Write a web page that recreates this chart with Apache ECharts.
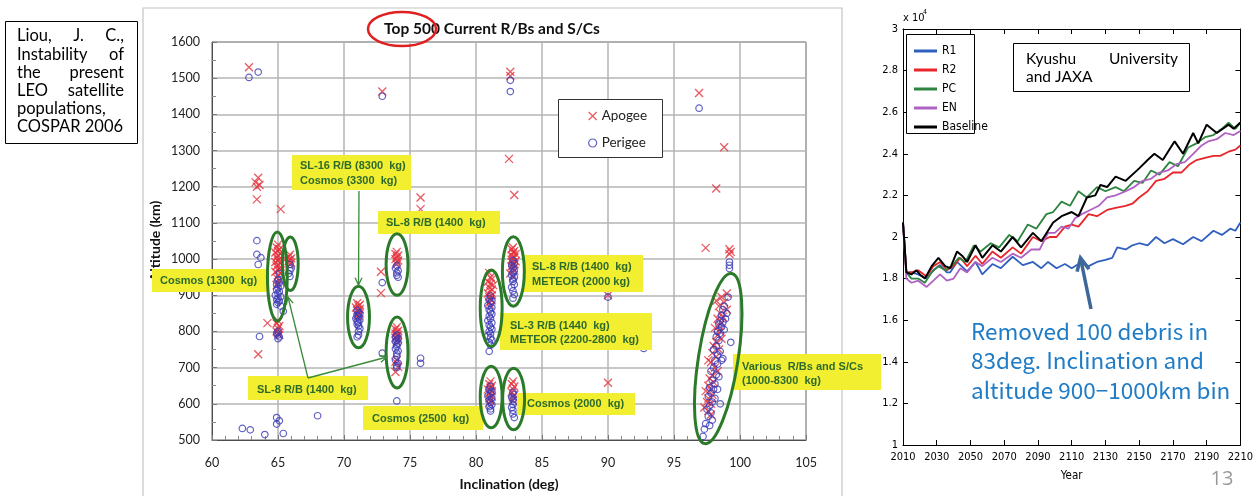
<!DOCTYPE html>
<html><head><meta charset="utf-8">
<script src="https://cdn.jsdelivr.net/npm/echarts@6/dist/echarts.min.js"></script>
<style>html,body{margin:0;padding:0;background:#fff}#c{width:1256px;height:496px}</style>
</head><body><div id="c"></div>
<script>
// ---------- Left chart: top 500 rocket bodies / spacecraft (inclination vs altitude) ----------
const apogee = [
  [62.8,1530],[63.5,1225],[63.3,1212],[63.6,1205],[63.4,1200],[63.4,1165],[65.2,1138],
  [65.0,1040],[64.9,1032],[65.1,1028],[65.0,1022],[64.8,1018],[65.2,1014],[65.0,1010],[64.9,1004],[65.1,1000],
  [65.0,996],[64.8,992],[65.2,988],[65.0,984],[64.9,980],[65.1,975],[65.0,970],[64.8,965],[65.2,960],[65.0,955],
  [64.9,948],[65.1,942],[65.0,935],[64.9,928],
  [65.0,830],[64.9,822],[65.1,815],[65.0,808],[64.9,800],[65.0,795],[65.1,790],[64.2,823],[63.5,737],
  [65.9,1012],[65.8,1006],[66.0,1002],[65.9,998],[65.8,994],[66.0,990],[65.9,985],
  [71.0,878],[71.2,874],[71.1,870],[70.9,866],[71.2,862],[71.0,858],[71.1,854],[71.2,850],[71.0,846],[71.1,842],
  [72.9,1463],[72.8,965],[72.8,906],[75.8,1170],[75.8,1138],
  [74.0,1020],[73.9,1014],[74.1,1010],[74.0,1005],[73.9,1000],[74.1,996],[74.0,992],[74.0,986],
  [74.0,812],[73.9,806],[74.1,802],[74.0,798],[73.9,794],[74.1,790],[74.0,786],[73.9,782],[74.1,778],[74.0,772],
  [74.0,722],[73.9,716],[74.1,702],[73.9,688],
  [81.0,962],[81.1,950],[81.2,944],[80.9,938],[81.1,932],[81.3,928],[81.0,922],[81.2,916],[81.1,910],[80.9,905],
  [81.2,900],[81.0,895],[81.1,890],[81.2,886],[81.0,880],[81.1,872],
  [81.1,662],[81.0,655],[81.2,650],[81.1,645],[80.9,640],[81.2,635],[81.0,630],[81.1,625],[81.2,620],[81.0,615],[81.1,608],[81.0,602],
  [82.8,1032],[82.7,1027],[82.9,1022],[82.8,1018],[83.0,1014],[82.7,1010],[82.9,1006],[82.8,1002],[82.7,998],[83.0,994],
  [82.8,990],[82.9,985],[82.7,980],[82.8,975],[82.9,968],[82.6,960],[82.8,952],
  [82.8,662],[82.7,655],[82.9,648],[82.8,640],[82.7,632],[82.9,625],[82.8,618],[82.8,610],
  [82.6,1518],[82.6,1506],[82.5,1277],[82.9,1177],[90.0,900],[90.0,658],[96.9,1459],[98.8,1309],[98.2,1195],
  [97.4,1031],[99.2,1027],[99.3,1020],[99.2,1014],
  [99.0,905],[98.6,895],[98.2,885],[98.8,880],[98.4,870],[99.0,860],[98.5,850],[98.7,840],[98.3,835],[98.6,825],
  [98.4,815],[98.1,810],[98.5,800],[98.3,790],[98.6,780],[98.2,770],[98.0,760],[98.4,750],[97.9,740],[98.2,730],
  [97.6,720],[97.8,715],[98.1,700],[98.3,690],[97.9,680],[97.7,670],[98.0,660],[97.6,650],[97.8,640],[97.4,635],
  [97.9,625],[97.6,615],[97.5,605],[97.8,600],[97.3,590],[97.6,580],[97.8,570]
];
const perigee = [
  [62.8,1502],[63.5,1517],[63.4,1051],[63.4,1013],[63.7,1004],[63.5,985],[63.6,786],
  [62.3,532],[62.9,528],[64.0,515],[64.9,562],[65.1,553],[64.9,544],[65.4,518],[65.0,622],[68.0,567],
  [65.0,942],[65.1,935],[64.9,930],[65.2,925],[65.0,920],[64.9,915],[65.1,910],[65.0,905],[64.8,900],[65.2,896],
  [65.0,892],[64.9,888],[65.1,884],[65.0,880],[64.9,875],[65.2,870],[65.4,856],[65.1,960],
  [65.0,800],[64.9,795],[65.0,790],[65.1,785],[65.0,780],
  [65.9,985],[66.0,975],[65.9,968],[65.8,960],[65.9,952],
  [71.0,858],[71.1,852],[71.2,848],[71.0,844],[71.1,840],[70.9,836],[71.2,832],[71.0,828],[71.1,824],[71.0,820],
  [71.1,815],[71.2,808],[71.1,800],[71.1,790],[71.0,785],
  [72.9,1450],[72.9,935],[72.9,740],[75.8,726],[75.8,712],
  [74.0,982],[73.9,975],[74.1,968],[74.0,962],[74.0,955],[74.1,950],
  [74.0,790],[73.9,785],[74.1,780],[74.0,776],[73.9,772],[74.1,768],[74.0,764],[74.0,758],[73.9,752],[74.1,746],
  [74.0,740],[74.0,732],[73.9,722],[74.1,712],[74.0,705],[74.0,700],[74.0,608],
  [81.1,898],[81.0,890],[81.2,884],[81.1,878],[80.9,872],[81.2,866],[81.0,860],[81.1,854],[81.2,848],[81.0,842],
  [81.1,836],[80.9,830],[81.2,824],[81.0,818],[81.1,812],[81.2,806],[81.0,800],[81.1,794],[80.9,788],[81.1,782],
  [81.2,776],[81.0,770],[81.1,762],[81.0,745],
  [81.1,648],[81.0,640],[81.2,634],[81.1,628],[80.9,622],[81.2,616],[81.0,610],[81.1,604],[81.2,598],[81.0,592],
  [81.1,586],[81.1,580],
  [82.8,996],[82.9,988],[82.7,982],[82.8,975],[82.9,968],[82.8,962],[82.7,956],[82.9,950],[82.8,944],[82.8,938],
  [82.9,930],[82.7,922],[82.8,912],[82.9,902],[82.8,892],
  [82.8,632],[82.9,625],[82.7,618],[82.8,612],[82.9,605],[82.8,598],[82.7,590],[82.8,582],[82.8,572],[82.9,562],
  [82.6,1494],[82.6,1463],[90.0,895],[92.7,753],[96.9,1417],[99.2,992],[99.2,983],[99.2,974],
  [99.1,895],[98.8,870],[98.7,860],[99.0,850],[98.6,845],[98.9,835],[98.5,830],[98.7,825],[98.4,820],[98.6,812],
  [98.8,805],[98.3,800],[98.5,795],[98.2,785],[98.4,775],[99.3,770],[98.2,760],[98.0,750],[98.5,745],[98.3,735],
  [98.7,725],[98.1,720],[98.3,710],[98.0,700],[97.8,690],[98.2,680],[98.4,675],[97.9,665],[98.1,655],[97.7,645],
  [98.0,640],[97.8,630],[97.6,620],[98.1,615],[97.9,605],[98.5,600],[97.7,595],[97.5,585],[97.8,575],[97.6,565],
  [97.9,555],[97.4,545],[97.7,540],[97.3,530],[97.2,510],[98.3,640],[98.6,720]
];

// ---------- Right chart: LEO population projection (x 10^4 objects) ----------
const yearStart = 2010;
const r1 = [
  [2010,2.07],[2012,1.83],[2015,1.83],[2019,1.82],[2024,1.80],[2028,1.84],[2032,1.865],[2036,1.83],[2038,1.83],
  [2042,1.88],[2048,1.835],[2053,1.88],[2057,1.82],[2063,1.87],[2068,1.85],[2075,1.905],[2081,1.865],[2087,1.88],
  [2092,1.85],[2096,1.88],[2101,1.85],[2106,1.87],[2110,1.85],[2115,1.875],[2120,1.86],[2125,1.88],[2130,1.89],
  [2134,1.90],[2137,1.95],[2142,1.94],[2146,1.96],[2150,1.97],[2155,1.96],[2160,2.00],[2165,1.97],[2170,1.99],
  [2176,1.965],[2182,2.00],[2187,1.98],[2194,2.03],[2199,2.01],[2204,2.04],[2207,2.03],[2210,2.07]
];
const r2 = [
  [2010,2.07],[2012,1.83],[2015,1.83],[2019,1.84],[2024,1.81],[2028,1.86],[2032,1.88],[2036,1.84],[2040,1.86],
  [2044,1.90],[2048,1.86],[2053,1.91],[2057,1.87],[2063,1.93],[2068,1.90],[2075,1.95],[2080,1.92],[2087,2.00],
  [2092,1.98],[2097,2.00],[2101,2.00],[2106,2.05],[2110,2.06],[2114,2.05],[2120,2.11],[2125,2.10],[2131,2.13],
  [2136,2.14],[2142,2.15],[2146,2.16],[2150,2.19],[2155,2.22],[2160,2.27],[2165,2.28],[2170,2.31],[2175,2.31],
  [2180,2.35],[2184,2.37],[2189,2.38],[2194,2.39],[2198,2.39],[2203,2.41],[2207,2.42],[2210,2.44]
];
const pc = [
  [2010,2.07],[2012,1.83],[2015,1.80],[2019,1.80],[2023,1.78],[2027,1.83],[2031,1.86],[2035,1.84],[2039,1.86],
  [2043,1.90],[2047,1.88],[2052,1.96],[2056,1.93],[2062,1.97],[2067,1.95],[2073,2.01],[2078,1.98],[2084,2.06],
  [2089,2.04],[2095,2.11],[2099,2.12],[2104,2.17],[2109,2.15],[2114,2.22],[2119,2.19],[2125,2.24],[2130,2.22],
  [2136,2.24],[2141,2.22],[2147,2.27],[2152,2.26],[2157,2.32],[2162,2.30],[2168,2.36],[2173,2.34],[2179,2.43],
  [2184,2.45],[2189,2.48],[2194,2.49],[2199,2.52],[2203,2.55],[2207,2.52],[2210,2.55]
];
const en = [
  [2010,2.07],[2012,1.80],[2015,1.78],[2019,1.79],[2024,1.76],[2028,1.79],[2032,1.82],[2036,1.79],[2040,1.80],
  [2044,1.85],[2048,1.83],[2053,1.88],[2057,1.86],[2063,1.90],[2068,1.88],[2075,1.92],[2080,1.90],[2086,1.94],
  [2091,1.94],[2096,2.02],[2100,2.02],[2104,2.05],[2108,2.04],[2112,2.09],[2116,2.11],[2121,2.13],[2126,2.15],
  [2131,2.19],[2136,2.20],[2142,2.22],[2147,2.24],[2152,2.27],[2157,2.28],[2162,2.31],[2167,2.32],[2172,2.35],
  [2177,2.36],[2182,2.40],[2187,2.44],[2191,2.46],[2196,2.47],[2201,2.50],[2206,2.49],[2210,2.51]
];
const baseline = [
  [2010,2.07],[2012,1.83],[2015,1.82],[2018,1.84],[2020,1.82],[2023,1.80],[2027,1.86],[2031,1.90],[2035,1.86],
  [2038,1.85],[2042,1.93],[2045,1.91],[2048,1.88],[2053,1.96],[2057,1.90],[2063,1.96],[2068,1.93],[2075,2.00],
  [2080,1.95],[2087,2.02],[2092,1.98],[2099,2.07],[2104,2.10],[2110,2.12],[2114,2.10],[2119,2.19],[2124,2.20],
  [2127,2.25],[2131,2.24],[2136,2.29],[2142,2.27],[2150,2.33],[2155,2.37],[2159,2.40],[2164,2.37],[2171,2.46],
  [2176,2.40],[2182,2.50],[2185,2.45],[2190,2.54],[2196,2.50],[2203,2.54],[2206,2.52],[2210,2.55]
];

// cluster rings on the scatter, in data units: [inclination, altitude, half-width deg, half-height km, tilt deg]
const rings = [
  [64.95,952,0.75,123,0],[65.93,987,0.6,74,0],[71.1,840,0.83,85,0],[74.02,985,0.83,85,0],[74.02,742,0.83,98,0],
  [81.15,864,0.83,106,0],[81.15,619,0.83,85,0],[82.83,966,0.83,96,0],[82.85,613,0.83,85,0],[98.35,725,1.5,238,-9]
];

const crossPath = 'path://M0,0L10,10M10,0L0,10';
const lbl = {fontFamily:'Lato', fontSize:12.5, color:'#222', formatter:v => String(v)};
const narrow = '"Liberation Sans Narrow", "DejaVu Sans Condensed", "Roboto Condensed", "Arial Narrow", sans-serif';
const shift = d => d.map(p => [p[0]-yearStart, p[1]]);
const frameAxis = {show:true, onZero:false, lineStyle:{color:'#000', width:1}};
const inTick = {show:true, inside:true, length:5, lineStyle:{color:'#000'}};

const chart = echarts.init(document.getElementById('c'));
chart.setOption({
  animation:false,
  grid:[
    {left:212, top:42, width:594, height:402, show:true, borderColor:'#4d4d4d', borderWidth:1},
    {left:903, top:29, width:338, height:416}
  ],
  xAxis:[
    {gridIndex:0, type:'value', min:60, max:105, interval:5,
     axisLine:{show:true, onZero:false, lineStyle:{color:'#4d4d4d'}},
     axisTick:{show:true, inside:true, length:5, lineStyle:{color:'#777'}},
     minorTick:{show:true, splitNumber:5, length:4, lineStyle:{color:'#888'}},
     splitLine:{show:true, lineStyle:{color:'#b4b4b4', width:1.5}},
     axisLabel:Object.assign({margin:16}, lbl),
     name:'Inclination (deg)', nameLocation:'middle', nameGap:37,
     nameTextStyle:{fontFamily:'Lato', fontWeight:'bold', fontSize:14, color:'#111'}},
    {gridIndex:1, type:'value', min:0, max:200, interval:20,
     axisLine:frameAxis, axisTick:inTick, splitLine:{show:false},
     axisLabel:{formatter:v => String(v+yearStart), margin:7, fontFamily:narrow, fontSize:11, color:'#000'},
     name:'Year', nameLocation:'middle', nameGap:25,
     nameTextStyle:{fontFamily:narrow, fontSize:11.5, color:'#000'}},
    {gridIndex:1, type:'value', position:'top', min:0, max:200, interval:20,
     axisLine:frameAxis, axisTick:inTick, splitLine:{show:false}, axisLabel:{show:false}}
  ],
  yAxis:[
    {gridIndex:0, type:'value', min:500, max:1600, interval:100,
     axisLine:{show:true, onZero:false, lineStyle:{color:'#4d4d4d'}},
     axisTick:{show:true, inside:true, length:5, lineStyle:{color:'#777'}},
     minorTick:{show:true, splitNumber:2, length:4, lineStyle:{color:'#888'}},
     splitLine:{show:true, lineStyle:{color:'#b4b4b4', width:1.5}},
     axisLabel:Object.assign({margin:12}, lbl),
     name:'Altitude (km)', nameLocation:'middle', nameGap:50, nameRotate:90,
     nameTextStyle:{fontFamily:'Lato', fontWeight:'bold', fontSize:14, color:'#111'}},
    {gridIndex:1, type:'value', min:1, max:3, interval:0.2,
     axisLine:frameAxis, axisTick:inTick, splitLine:{show:false},
     axisLabel:{formatter:v => String(Math.round(v*10)/10), margin:5, fontFamily:narrow, fontSize:11, color:'#000'}},
    {gridIndex:1, type:'value', position:'right', min:1, max:3, interval:0.2,
     axisLine:frameAxis, axisTick:inTick, splitLine:{show:false}, axisLabel:{show:false}}
  ],
  legend:[
    {left:583, top:104, orient:'vertical', itemWidth:8, itemHeight:8, itemGap:13, selectedMode:false, z:20,
     textStyle:{fontFamily:'Lato', fontSize:13.5, color:'#222'},
     data:[
       {name:'Apogee', icon:crossPath, itemStyle:{color:'rgba(0,0,0,0)', borderColor:'#e4313b', borderWidth:1.3}},
       {name:'Perigee', icon:'circle', itemStyle:{color:'rgba(0,0,0,0)', borderColor:'#3a3ab8', borderWidth:1.2}}
     ]},
    {left:909, top:39, orient:'vertical', itemWidth:23, itemHeight:3, itemGap:5, selectedMode:false, icon:'rect', z:20,
     textStyle:{fontFamily:narrow, fontSize:12, color:'#000', lineHeight:14},
     data:['R1','R2','PC','EN','Baseline']}
  ],
  series:[
    {name:'Apogee', type:'scatter', xAxisIndex:0, yAxisIndex:0, data:apogee, symbol:crossPath, symbolSize:8,
     itemStyle:{color:'rgba(0,0,0,0)', borderColor:'#e4313b', borderWidth:1.3}},
    {name:'Perigee', type:'scatter', xAxisIndex:0, yAxisIndex:0, data:perigee, symbol:'circle', symbolSize:6.5,
     itemStyle:{color:'rgba(0,0,0,0)', borderColor:'#3a3ab8', borderWidth:1.2}},
    {name:'R1', type:'line', xAxisIndex:1, yAxisIndex:1, data:shift(r1), showSymbol:false, symbol:'none',
     color:'#2f5fbf', lineStyle:{width:1.8, color:'#2f5fbf'}},
    {name:'R2', type:'line', xAxisIndex:1, yAxisIndex:1, data:shift(r2), showSymbol:false, symbol:'none',
     color:'#e8252a', lineStyle:{width:1.8, color:'#e8252a'}},
    {name:'PC', type:'line', xAxisIndex:1, yAxisIndex:1, data:shift(pc), showSymbol:false, symbol:'none',
     color:'#2e8540', lineStyle:{width:1.8, color:'#2e8540'}},
    {name:'EN', type:'line', xAxisIndex:1, yAxisIndex:1, data:shift(en), showSymbol:false, symbol:'none',
     color:'#b062c4', lineStyle:{width:1.8, color:'#b062c4'}},
    {name:'Baseline', type:'line', xAxisIndex:1, yAxisIndex:1, data:shift(baseline), showSymbol:false, symbol:'none',
     color:'#000', lineStyle:{width:2, color:'#000'}}
  ]
});

// ---------- annotations ----------
const ctx = document.createElement('canvas').getContext('2d');
function justified(words, x1, x2, y, font, color, z) {
  ctx.font = font;
  const widths = words.map(w => ctx.measureText(w).width);
  const gap = words.length > 1 ? (x2 - x1 - widths.reduce((a,b)=>a+b,0)) / (words.length - 1) : 0;
  let x = x1;
  return words.map((w,i) => {
    const el = {type:'text', x:x, y:y, z:z||10, style:{text:w, font:font, fill:color||'#000', textVerticalAlign:'middle'}};
    x += widths[i] + gap;
    return el;
  });
}
function arrow(x1, y1, x2, y2, color, width, head) {
  const a = Math.atan2(y2-y1, x2-x1), s = 0.45;
  return [
    {type:'line', z:11, shape:{x1:x1, y1:y1, x2:x2, y2:y2}, style:{stroke:color, lineWidth:width}},
    {type:'polyline', z:11, shape:{points:[
      [x2 - head*Math.cos(a - s), y2 - head*Math.sin(a - s)], [x2, y2],
      [x2 - head*Math.cos(a + s), y2 - head*Math.sin(a + s)]]},
     style:{stroke:color, lineWidth:width, fill:null}}
  ];
}
const yellow = '#f2ee30', tagText = '#2d6b2d';
const tagFont = 'bold 11px "Liberation Sans", Arial, sans-serif';
function tag(x, y, w, h, lines, tx, ty, lh) {
  const els = [{type:'rect', z:10, shape:{x:x, y:y, width:w, height:h}, style:{fill:yellow}}];
  lines.forEach((t,i) => els.push({type:'text', z:11, x:tx, y:ty + i*(lh||15),
    style:{text:t, font:tagFont, fill:tagText, textVerticalAlign:'middle'}}));
  return els;
}

const g = [];
// slide frame around the left chart
g.push({type:'polyline', z:1, shape:{points:[[143,496],[143,8],[842,8],[842,496]]}, style:{stroke:'#c4c4c4', lineWidth:1.2, fill:null}});
// citation box
g.push({type:'rect', z:5, shape:{x:5.5, y:21.5, width:132, height:122}, style:{fill:'#fff', stroke:'#000', lineWidth:1}});
const citeFont = '16.5px Lato, sans-serif';
g.push(...justified(['Liou,','J.','C.,'], 17, 124, 36, citeFont));
g.push(...justified(['Instability','of'], 17, 124, 54.5, citeFont));
g.push(...justified(['the','present'], 17, 124, 72.5, citeFont));
g.push(...justified(['LEO','satellite'], 17, 124, 91, citeFont));
g.push(...justified(['populations,'], 17, 124, 109, citeFont));
g.push(...justified(['COSPAR 2006'], 17, 124, 127, citeFont));
// title
g.push({type:'text', z:10, x:492, y:29, style:{text:'Top 500 Current R/Bs and S/Cs', font:'bold 15.5px Lato, sans-serif',
  fill:'#111', textAlign:'center', textVerticalAlign:'middle'}});
g.push({type:'ellipse', z:11, shape:{cx:402, cy:29, rx:34, ry:17}, style:{fill:null, stroke:'#e02020', lineWidth:2.5}});
// scatter legend box
g.push({type:'rect', z:12, shape:{x:558.5, y:99.5, width:104, height:58}, style:{fill:'#fff', stroke:'#333', lineWidth:1}});
// cluster rings
const px0 = chart.convertToPixel({gridIndex:0}, [60, 500]);
const pxPerDeg = chart.convertToPixel({gridIndex:0}, [61, 500])[0] - px0[0];
const pxPerKm = px0[1] - chart.convertToPixel({gridIndex:0}, [60, 501])[1];
rings.forEach(r => {
  const c = chart.convertToPixel({gridIndex:0}, [r[0], r[1]]);
  g.push({type:'ellipse', z:11, x:c[0], y:c[1], rotation:r[4]*Math.PI/180,
    shape:{cx:0, cy:0, rx:r[2]*pxPerDeg, ry:r[3]*pxPerKm}, style:{fill:null, stroke:'#2a7a2a', lineWidth:3}});
});
// object class tags
g.push(...tag(152, 269, 116, 23, ['Cosmos (1300  kg)'], 160, 280.5));
g.push(...tag(292, 155, 119, 35, ['SL-16 R/B (8300  kg)', 'Cosmos (3300  kg)'], 300, 166, 15));
g.push(...tag(378, 211, 122, 23, ['SL-8 R/B (1400  kg)'], 386, 222.5));
g.push(...tag(524, 255, 119, 37, ['SL-8 R/B (1400  kg)', 'METEOR (2000 kg)'], 532, 267, 15));
g.push(...tag(500, 313, 152, 37, ['SL-3 R/B (1440  kg)', 'METEOR (2200-2800  kg)'], 510, 325.5, 14));
g.push(...tag(517, 393, 118, 22, ['Cosmos (2000  kg)'], 527, 404));
g.push(...tag(363, 406, 120, 24, ['Cosmos (2500  kg)'], 372, 418.5));
g.push(...tag(248, 376, 120, 24, ['SL-8 R/B (1400  kg)'], 257, 389.5));
g.push(...tag(733, 354, 148, 36, ['Various  R/Bs and S/Cs', '(1000-8300  kg)'], 742, 366.5, 14));
// pointer arrows
g.push(...arrow(359, 191, 358.5, 285, '#3a8a3a', 1.3, 8));
g.push(...arrow(308, 378, 288, 297, '#3a8a3a', 1.3, 8));
g.push(...arrow(308, 378, 387, 357, '#3a8a3a', 1.3, 8));

// right chart decorations
g.push({type:'rect', z:12, shape:{x:906.5, y:34.5, width:68, height:99}, style:{fill:'#fff', stroke:'#000', lineWidth:1}});
g.push({type:'text', z:10, x:903, y:18, style:{text:'x 10', font:'11px ' + narrow, fill:'#000', textVerticalAlign:'middle'}});
g.push({type:'text', z:10, x:923, y:12, style:{text:'4', font:'7px ' + narrow, fill:'#000', textVerticalAlign:'middle'}});
g.push({type:'rect', z:12, shape:{x:1013.5, y:43.5, width:176, height:48}, style:{fill:'#fff', stroke:'#000', lineWidth:1}});
const kFont = '15.5px Lato, sans-serif';
g.push(...justified(['Kyushu','University'], 1026, 1178, 59, kFont, '#000', 13));
g.push(...justified(['and JAXA'], 1026, 1178, 77, kFont, '#000', 13));
const noteFont = '22.5px "Noto Sans CJK JP", "Noto Sans", sans-serif';
['Removed 100 debris in', '83deg. Inclination and', 'altitude 900\u22121000km bin'].forEach((t,i) =>
  g.push({type:'text', z:13, x:971, y:331 + i*29.5, style:{text:t, font:noteFont, fill:'#1f7cc6', textVerticalAlign:'middle'}}));
g.push(...arrow(1091, 309, 1080.5, 258, '#3d6699', 3.5, 14));
g.push({type:'text', z:10, x:1222, y:479, style:{text:'13', font:'20px "Open Sans", sans-serif', fill:'#9a9a9a',
  textAlign:'center', textVerticalAlign:'middle'}});

chart.setOption({graphic:{elements:g}});
</script></body></html>
